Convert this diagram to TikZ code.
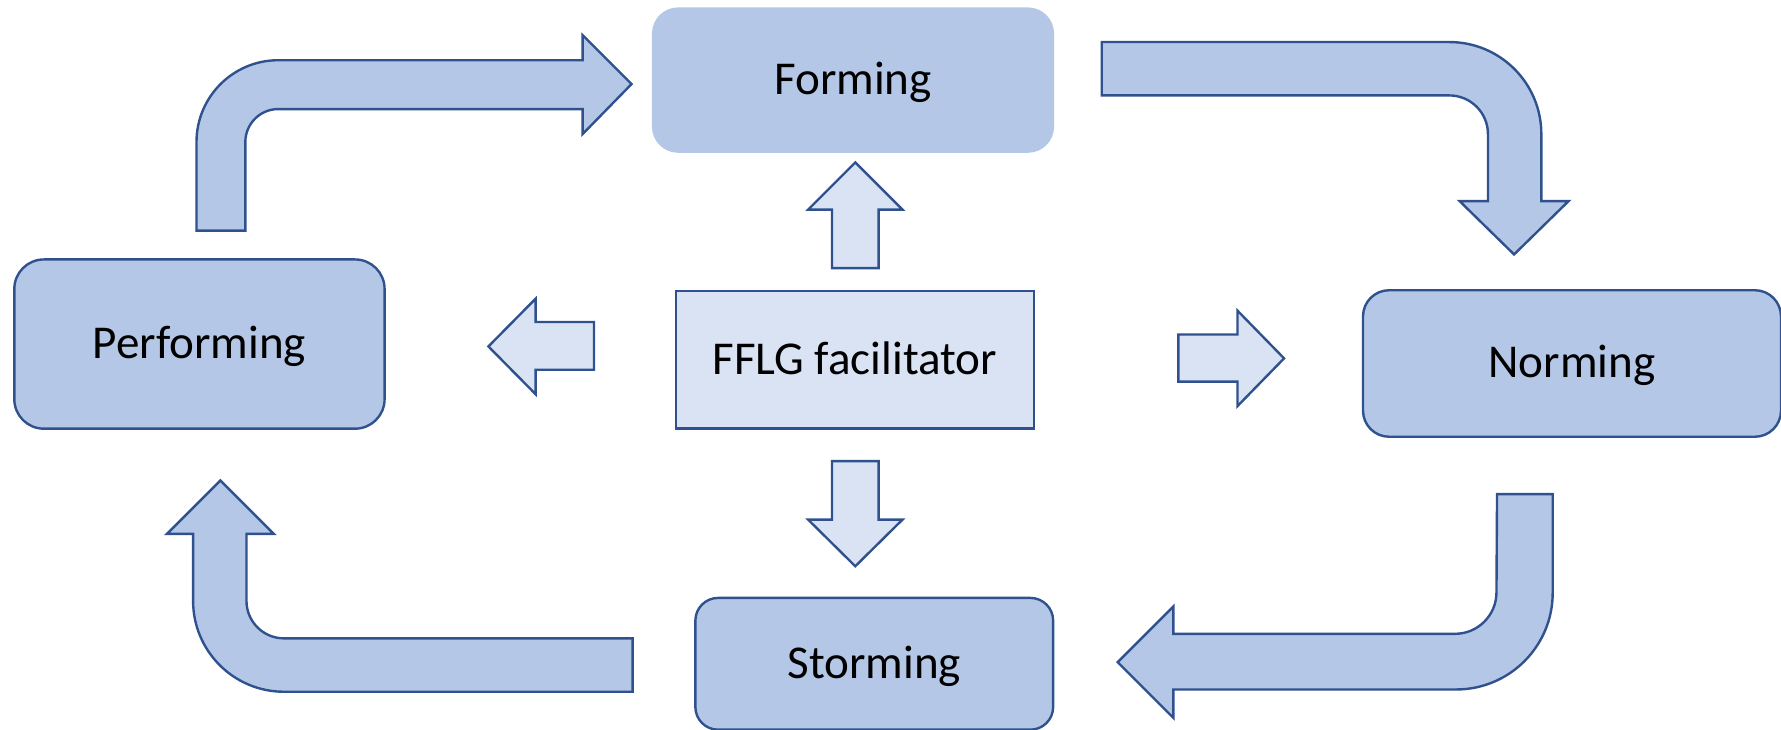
\documentclass[tikz,border=0pt]{standalone}
\usepackage{fontspec}
\setmainfont{Carlito}
\usepackage{tikz}
\definecolor{stagefill}{HTML}{B4C7E7}
\definecolor{hubfill}{HTML}{DAE3F3}
\definecolor{edgeblue}{HTML}{2F528F}

\begin{document}
\begin{tikzpicture}[x=0.1mm,y=-0.1mm,
    stage/.style={rectangle,rounded corners=2.3mm,draw=edgeblue,line width=0.6pt,
        fill=stagefill,inner sep=0pt,text height=8pt,text depth=0.8pt,
        font=\fontsize{11.8}{14}\selectfont},
    hub/.style={rectangle,draw=edgeblue,line width=0.6pt,fill=hubfill,
        inner sep=0pt,text height=8pt,text depth=0.8pt,
        font=\fontsize{11.8}{14}\selectfont},
    bigarrow/.style={draw=edgeblue,line width=0.6pt,fill=stagefill},
    smallarrow/.style={draw=edgeblue,line width=0.6pt,fill=hubfill}
    ]
\useasboundingbox (0,0) rectangle (1568,642);

% the four stages and the facilitator
\node[stage,draw=none,minimum width=35.4mm,minimum height=12.8mm] (forming) at (751,70.5) {Forming};
\node[stage,rounded corners=2.6mm,minimum width=32.6mm,minimum height=14.9mm] (performing) at (175.6,302.9) {Performing};
\node[stage,minimum width=36.8mm,minimum height=12.9mm] (norming) at (1384,320) {Norming};
\node[stage,rounded corners=2mm,minimum width=31.5mm,minimum height=11.6mm] (storming) at (769.7,584.4) {Storming};
\node[hub,minimum width=31.5mm,minimum height=12.1mm] (fflg) at (752.7,316.8) {FFLG facilitator};

% bent arrows of the cycle
\draw[bigarrow] (173,203) -- (173,125) arc[start angle=180,end angle=270,radius=72]
    -- (513,53) -- (513,31) -- (556,74) -- (513,118) -- (513,96)
    -- (245,96) arc[start angle=270,end angle=180,radius=29] -- (216,203) -- cycle;
\draw[bigarrow] (970,37) -- (1276,37) arc[start angle=270,end angle=360,radius=81]
    -- (1357,177) -- (1381,177) -- (1333,224) -- (1285,177) -- (1310,177)
    -- (1310,118) arc[start angle=0,end angle=-90,radius=34] -- (970,84) -- cycle;
\draw[bigarrow] (1318,435) -- (1367,435) -- (1367,522) arc[start angle=0,end angle=90,radius=85]
    -- (1033,607) -- (1033,632) -- (984,583) -- (1033,534) -- (1033,558)
    -- (1281,558) arc[start angle=90,end angle=0,radius=36.5] -- cycle;
\draw[bigarrow] (557,562) -- (557,609) -- (250,609) arc[start angle=90,end angle=180,radius=80]
    -- (170,470) -- (147,470) -- (194,423) -- (241,470) -- (217,470)
    -- (217,529) arc[start angle=180,end angle=90,radius=33] -- cycle;

% facilitator arrows
\draw[smallarrow] (732.5,236) -- (732.5,184.5) -- (711.5,184.5) -- (753,143)
    -- (794.5,184.5) -- (773.5,184.5) -- (773.5,236) -- cycle;
\draw[smallarrow] (732.5,406) -- (732.5,457.5) -- (711.5,457.5) -- (753,498.5)
    -- (794.5,457.5) -- (773.5,457.5) -- (773.5,406) -- cycle;
\draw[smallarrow] (523,283.5) -- (471.5,283.5) -- (471.5,263) -- (430,305)
    -- (471.5,347) -- (471.5,325.5) -- (523,325.5) -- cycle;
\draw[smallarrow] (1037.5,294.5) -- (1089.5,294.5) -- (1089.5,273.5) -- (1130.5,315.5)
    -- (1089.5,357.5) -- (1089.5,336) -- (1037.5,336) -- cycle;
\end{tikzpicture}
\end{document}
